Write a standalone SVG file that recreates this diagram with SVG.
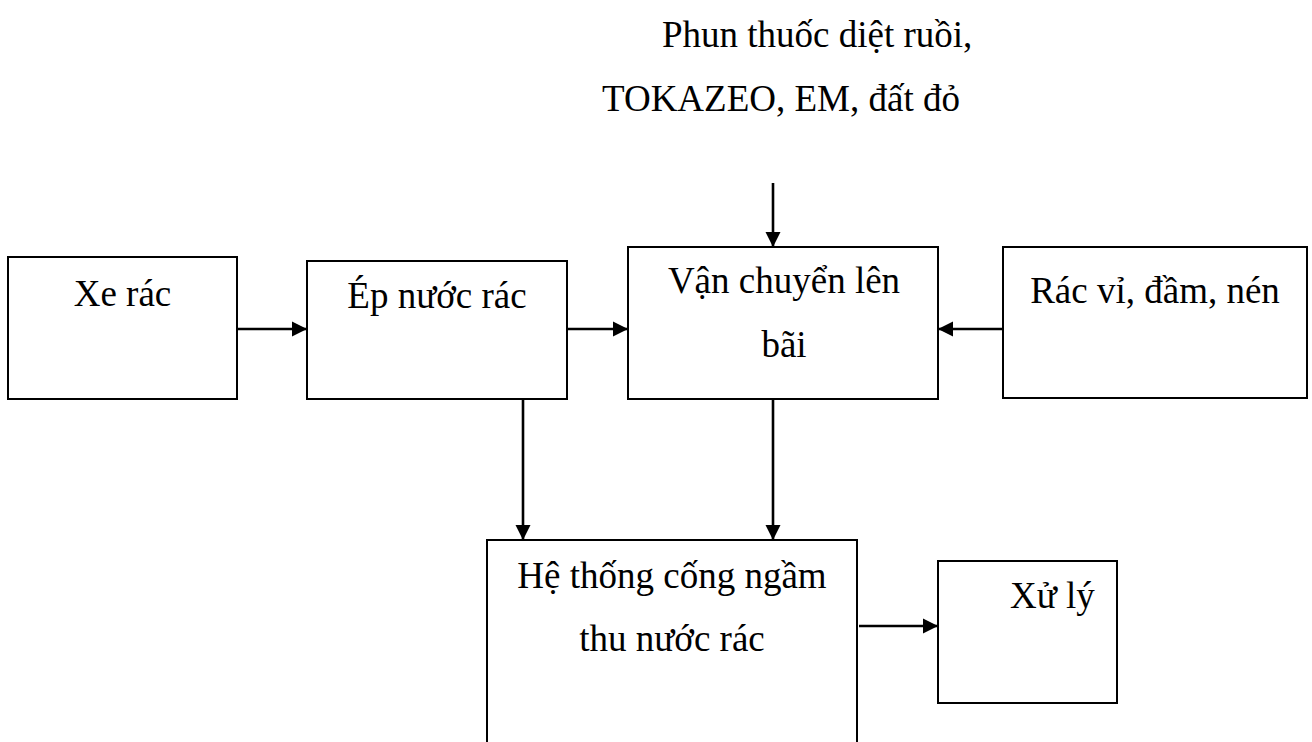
<svg xmlns="http://www.w3.org/2000/svg" width="1312" height="742" viewBox="0 0 1312 742">
<defs>
<marker id="ah" markerUnits="userSpaceOnUse" markerWidth="16" markerHeight="16" viewBox="0 0 16 16" refX="15" refY="8" orient="auto">
<path d="M0,0.5 L15,8 L0,15.5 Z" fill="#000"/>
</marker>
<style>
.box{fill:#fff;stroke:#000;stroke-width:2}
.t{font-family:"Liberation Serif","Times New Roman",serif;font-size:37px;fill:#000}
.c{text-anchor:middle}
.conn line{stroke:#000;stroke-width:2.6;marker-end:url(#ah)}
</style>
</defs>
<rect width="1312" height="742" fill="#fff"/>
<g id="label-top">
<text class="t" x="662" y="47">Phun thuốc diệt ruồi,</text>
<text class="t" x="602" y="111">TOKAZEO, EM, đất đỏ</text>
</g>
<g id="xe-rac">
<rect class="box" x="8" y="257" width="229" height="142"/>
<text class="t c" x="122.5" y="306">Xe rác</text>
</g>
<g id="ep-nuoc-rac">
<rect class="box" x="307" y="261" width="260" height="138"/>
<text class="t c" x="437" y="308">Ép nước rác</text>
</g>
<g id="van-chuyen">
<rect class="box" x="628" y="247" width="310" height="152"/>
<text class="t c" x="784" y="293">Vận chuyển lên</text>
<text class="t c" x="784" y="357">bãi</text>
</g>
<g id="rac-vi">
<rect class="box" x="1003" y="247" width="304" height="151"/>
<text class="t c" x="1155" y="303">Rác vỉ, đầm, nén</text>
</g>
<g id="he-thong">
<rect class="box" x="487" y="540" width="370" height="230"/>
<text class="t c" x="672" y="588">Hệ thống cống ngầm</text>
<text class="t c" x="672" y="651">thu nước rác</text>
</g>
<g id="xu-ly">
<rect class="box" x="938" y="561" width="179" height="142"/>
<text class="t" x="1010" y="608">Xử lý</text>
</g>
<g id="connectors" class="conn">
<line x1="237" y1="329" x2="307" y2="329"/>
<line x1="567" y1="329" x2="628" y2="329"/>
<line x1="1003" y1="329" x2="938" y2="329"/>
<line x1="773" y1="183" x2="773" y2="247"/>
<line x1="523" y1="399" x2="523" y2="540"/>
<line x1="773" y1="399" x2="773" y2="540"/>
<line x1="859" y1="626" x2="938" y2="626"/>
</g>
</svg>
